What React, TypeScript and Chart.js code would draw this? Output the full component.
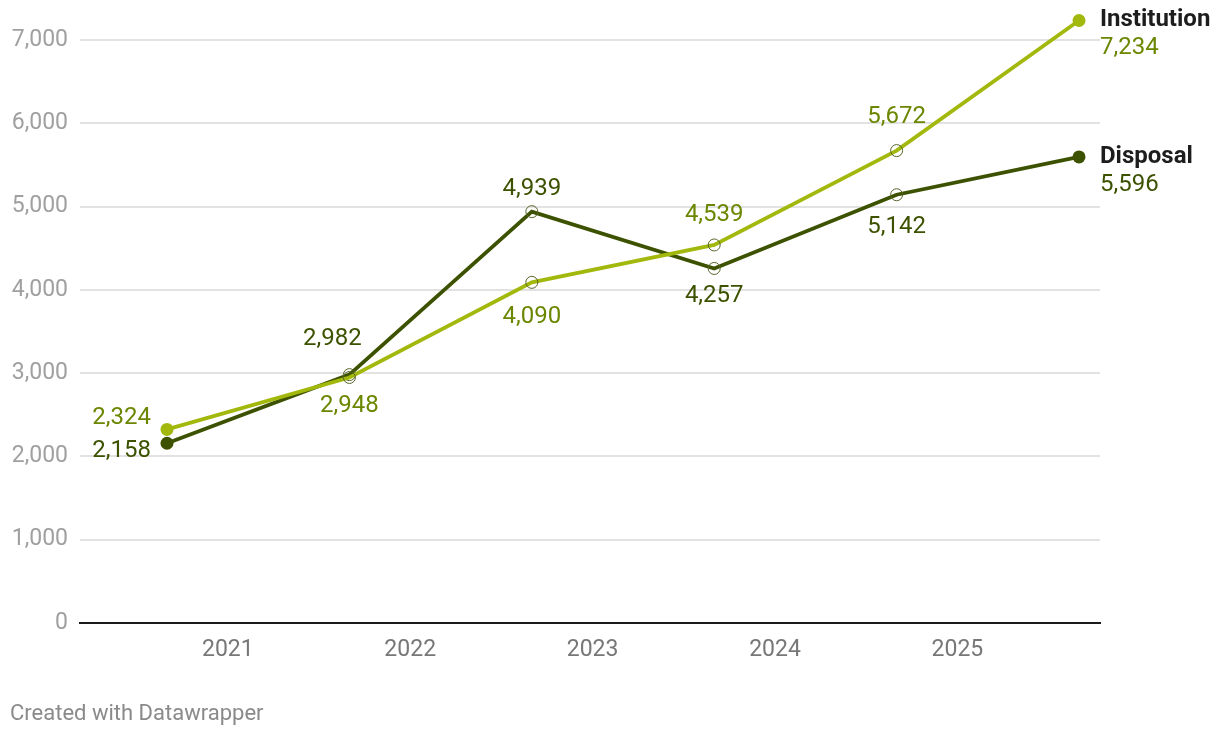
import React, { useEffect, useRef } from "react";
import { Chart, registerables } from "chart.js";

Chart.register(...registerables);

// ---- data ----
const years = ["2021", "2022", "2023", "2024", "2025"];
const pointX = [0, 1, 2, 3, 4, 5];
const institution = [2324, 2948, 4090, 4539, 5672, 7234];
const disposal = [2158, 2982, 4939, 4257, 5142, 5596];
const seriesNames = ["Institution", "Disposal"];
const yTicks = [0, 1000, 2000, 3000, 4000, 5000, 6000, 7000];

// label placement per point (style config)
const institutionPlace = ["leftUp", "below", "below", "above", "above", "end"];
const disposalPlace = ["leftDown", "above", "above", "below", "below", "end"];
const institutionGap = [0, 29, 35, 30, 34, 0];
const disposalGap = [0, 36, 23, 28, 32, 0];
const institutionShift = [0, 0, 0, 0, 0, 0];
const disposalShift = [0, -17, 0, 0, 0, 0];

const INST_LINE = "#a3b80c";
const INST_TEXT = "#6b8700";
const DISP_LINE = "#3d5200";
const DISP_TEXT = "#3d5200";
const FONT = "Roboto, 'DejaVu Sans', sans-serif";

const fmt = (v: number) => v.toLocaleString("en-US");

const labelPlugin = {
  id: "dwLabels",
  afterDatasetsDraw(chart: any) {
    const ctx = chart.ctx;
    const places = [institutionPlace, disposalPlace];
    const gaps = [institutionGap, disposalGap];
    const shifts = [institutionShift, disposalShift];
    const textColors = [INST_TEXT, DISP_TEXT];
    chart.data.datasets.forEach((ds: any, di: number) => {
      const meta = chart.getDatasetMeta(di);
      meta.data.forEach((pt: any, i: number) => {
        const v = ds.data[i].y;
        const place = places[di][i];
        const gap = gaps[di][i];
        const dx = shifts[di][i];
        ctx.save();
        ctx.fillStyle = textColors[di];
        ctx.font = `24px ${FONT}`;
        ctx.textBaseline = "middle";
        if (place === "above") {
          ctx.textAlign = "center";
          ctx.fillText(fmt(v), pt.x + dx, pt.y - gap);
        } else if (place === "below") {
          ctx.textAlign = "center";
          ctx.fillText(fmt(v), pt.x + dx, pt.y + gap);
        } else if (place === "leftUp") {
          ctx.textAlign = "right";
          ctx.fillText(fmt(v), pt.x - 16, pt.y - 11);
        } else if (place === "leftDown") {
          ctx.textAlign = "right";
          ctx.fillText(fmt(v), pt.x - 16, pt.y + 8);
        } else if (place === "end") {
          ctx.textAlign = "left";
          ctx.fillText(fmt(v), pt.x + 21, pt.y + 28);
          ctx.fillStyle = "#1d1d1d";
          ctx.font = `bold 24px ${FONT}`;
          ctx.fillText(seriesNames[di], pt.x + 21, pt.y);
        }
        ctx.restore();
      });
    });
  },
  afterDraw(chart: any) {
    const ctx = chart.ctx;
    ctx.save();
    ctx.fillStyle = "#8a8a8a";
    ctx.font = `22px ${FONT}`;
    ctx.textAlign = "left";
    ctx.textBaseline = "middle";
    ctx.fillText("Created with Datawrapper", 10, 714);
    ctx.restore();
  },
};

function pointStyleArrays(n: number, lineColor: string) {
  const radius: number[] = [];
  const bg: string[] = [];
  const border: string[] = [];
  const bw: number[] = [];
  for (let i = 0; i < n; i++) {
    const end = i === 0 || i === n - 1;
    radius.push(end ? 6.5 : 6);
    bg.push(end ? lineColor : "rgba(0,0,0,0)");
    border.push(end ? lineColor : "#55652a");
    bw.push(end ? 0 : 1);
  }
  return { radius, bg, border, bw };
}

const noPad = (s: any) => {
  s.paddingTop = 0;
  s.paddingBottom = 0;
  s.paddingLeft = 0;
  s.paddingRight = 0;
};

export default function App() {
  const ref = useRef<HTMLCanvasElement>(null);

  useEffect(() => {
    if (!ref.current) return;
    const ip = pointStyleArrays(institution.length, INST_LINE);
    const dp = pointStyleArrays(disposal.length, DISP_LINE);
    const chart = new Chart(ref.current, {
      type: "line",
      data: {
        datasets: [
          {
            label: seriesNames[0],
            data: pointX.map((x, i) => ({ x, y: institution[i] })),
            borderColor: INST_LINE,
            borderWidth: 3.8,
            pointRadius: ip.radius,
            pointBackgroundColor: ip.bg,
            pointBorderColor: ip.border,
            pointBorderWidth: ip.bw,
            tension: 0,
            clip: false as any,
          },
          {
            label: seriesNames[1],
            data: pointX.map((x, i) => ({ x, y: disposal[i] })),
            borderColor: DISP_LINE,
            borderWidth: 3.8,
            pointRadius: dp.radius,
            pointBackgroundColor: dp.bg,
            pointBorderColor: dp.border,
            pointBorderWidth: dp.bw,
            tension: 0,
            clip: false as any,
          },
        ],
      },
      options: {
        animation: false,
        responsive: false,
        devicePixelRatio: 1,
        layout: { padding: { top: 15, right: 120, left: 0, bottom: 0 } },
        plugins: { legend: { display: false }, tooltip: { enabled: false } },
        scales: {
          x: {
            type: "linear",
            min: -0.477,
            max: 5.115,
            afterFit: (s: any) => {
              s.height = 115;
              noPad(s);
            },
            afterBuildTicks: (s: any) => {
              s.ticks = years.map((_, k) => ({ value: k + 1 / 3 }));
            },
            ticks: {
              autoSkip: false,
              maxRotation: 0,
              padding: 13,
              color: "#777777",
              font: { family: FONT, size: 23 },
              callback: (v: any) => years[Math.round(Number(v) - 1 / 3)],
            },
            grid: { display: false, drawTicks: false },
            border: { display: true, color: "#1a1a1a", width: 2 },
          },
          y: {
            min: 0,
            max: 7300,
            afterFit: (s: any) => {
              s.width = 80;
              noPad(s);
            },
            afterBuildTicks: (s: any) => {
              s.ticks = yTicks.map((v) => ({ value: v }));
            },
            ticks: {
              padding: 12,
              color: "#a0a0a0",
              font: { family: FONT, size: 23 },
              callback: (v: any) => fmt(Number(v)),
            },
            grid: {
              drawTicks: false,
              color: (c: any) => (c.tick && c.tick.value === 0 ? "rgba(0,0,0,0)" : "#e2e2e2"),
              lineWidth: 2,
            },
            border: { display: false },
          },
        },
      },
      plugins: [labelPlugin],
    });
    return () => chart.destroy();
  }, []);

  return (
    <div style={{ position: "fixed", left: 0, top: 0, width: 1220, height: 738, background: "#fff" }}>
      <canvas ref={ref} width={1220} height={738} style={{ width: 1220, height: 738 }} />
    </div>
  );
}
